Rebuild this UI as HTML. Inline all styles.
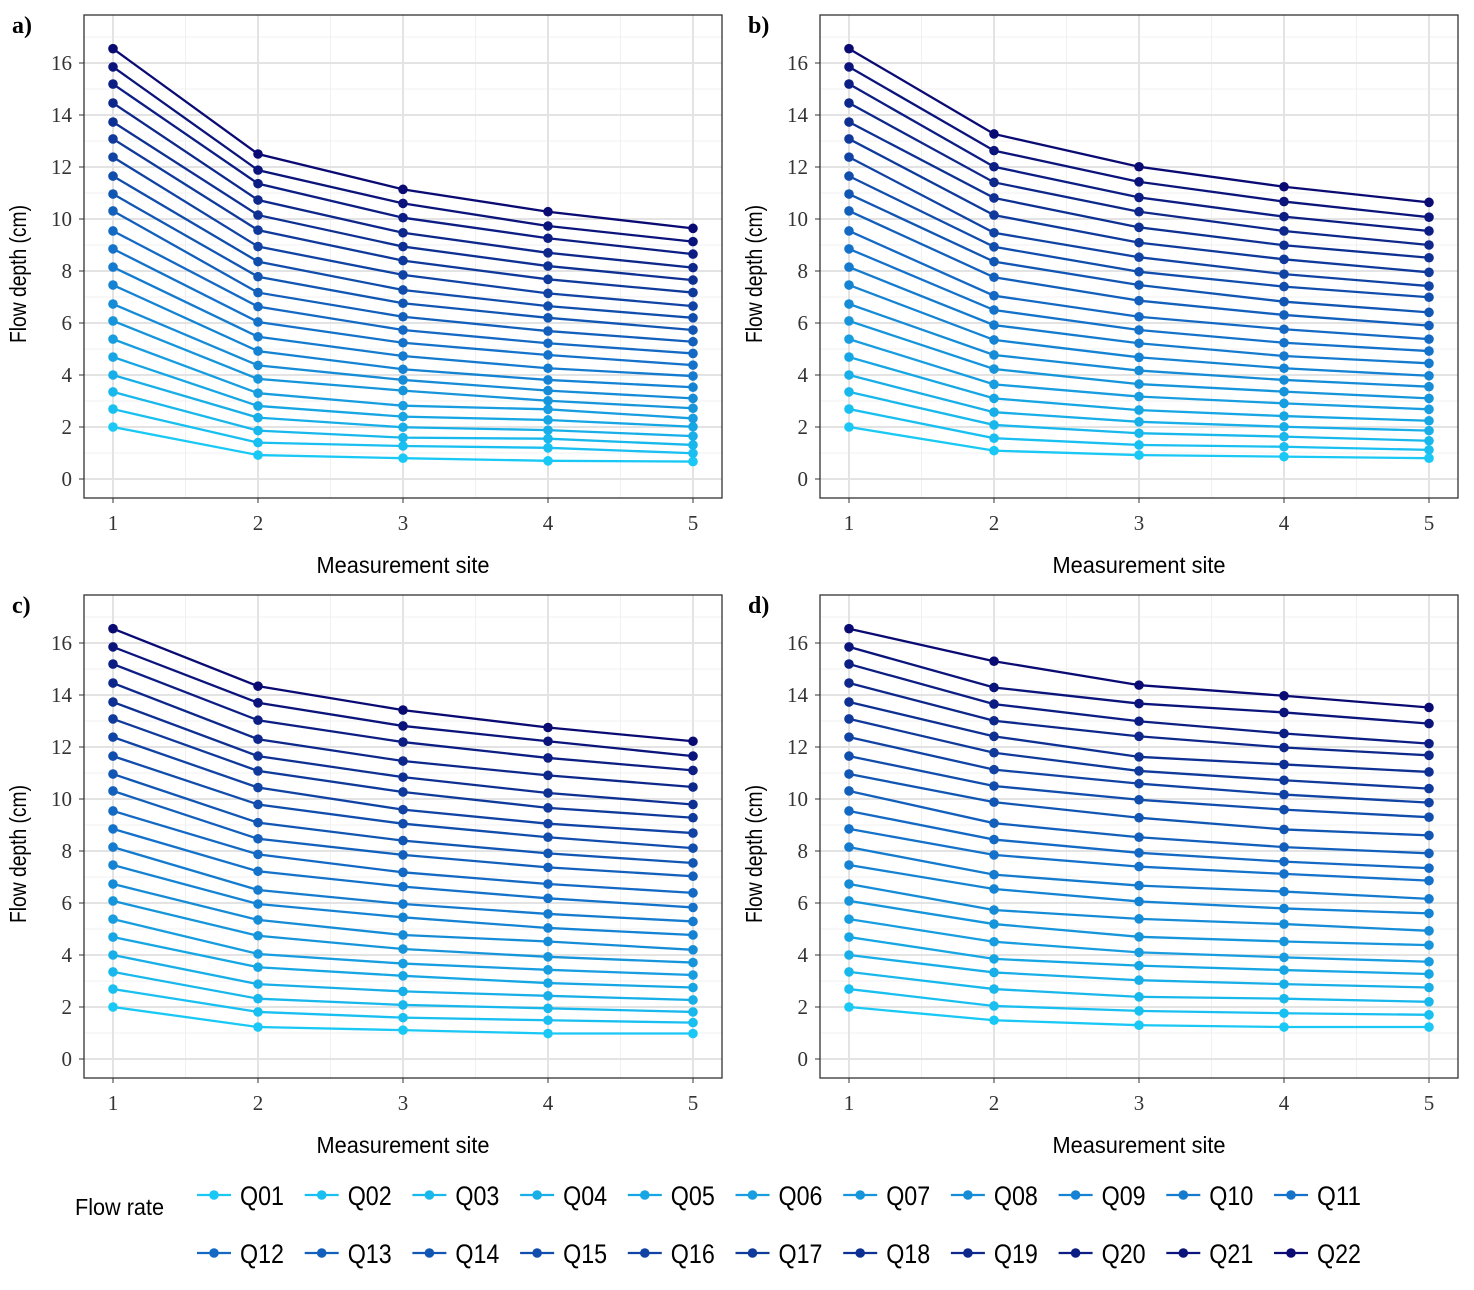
<!DOCTYPE html>
<html><head><meta charset="utf-8"><style>
html,body{margin:0;padding:0;background:#fff;}
svg{display:block;}
.tick{font-family:"Liberation Serif",serif;font-size:21px;fill:#333;}
.ttl{font-family:"Liberation Sans Narrow","Liberation Sans",sans-serif;font-size:23px;fill:#000;}
.plab{font-family:"Liberation Serif",serif;font-size:24px;font-weight:bold;fill:#000;}
.leg{font-family:"Liberation Sans Narrow","Liberation Sans",sans-serif;font-size:27px;fill:#000;}
</style></head><body>
<svg id="chart" width="1474" height="1290" viewBox="0 0 1474 1290" xmlns="http://www.w3.org/2000/svg"></svg>
<script>
const sites=[1,2,3,4,5];
const seriesNames=["Q01","Q02","Q03","Q04","Q05","Q06","Q07","Q08","Q09","Q10","Q11","Q12","Q13","Q14","Q15","Q16","Q17","Q18","Q19","Q20","Q21","Q22"];
const yTicks=[0,2,4,6,8,10,12,14,16];
const panelLabels=["a)","b)","c)","d)"];
// values listed Q01..Q22 per site
const site1=[2.0,2.69,3.35,4.0,4.69,5.38,6.08,6.73,7.46,8.15,8.85,9.54,10.31,10.96,11.65,12.38,13.08,13.73,14.46,15.19,15.85,16.55];
const aS2=[0.92,1.40,1.86,2.36,2.81,3.30,3.85,4.37,4.92,5.47,6.04,6.63,7.17,7.78,8.36,8.94,9.57,10.15,10.73,11.36,11.88,12.5];
const aS3=[0.80,1.27,1.59,1.99,2.40,2.82,3.40,3.81,4.22,4.73,5.24,5.73,6.24,6.76,7.27,7.85,8.40,8.94,9.47,10.05,10.6,11.14];
const aS4=[0.70,1.20,1.55,1.88,2.27,2.68,3.01,3.40,3.81,4.26,4.77,5.22,5.69,6.20,6.65,7.14,7.68,8.19,8.70,9.26,9.73,10.28];
const aS5=[0.67,0.99,1.31,1.65,2.01,2.33,2.72,3.10,3.53,3.96,4.38,4.83,5.28,5.73,6.20,6.65,7.17,7.65,8.13,8.65,9.13,9.64];
const bS2=[1.09,1.57,2.08,2.57,3.10,3.64,4.23,4.77,5.35,5.92,6.5,7.05,7.76,8.36,8.93,9.47,10.15,10.81,11.41,12.01,12.63,13.27];
const bS3=[0.92,1.31,1.76,2.20,2.65,3.17,3.65,4.17,4.68,5.22,5.73,6.24,6.86,7.46,7.97,8.53,9.09,9.68,10.28,10.83,11.43,12.01];
const bS4=[0.86,1.24,1.63,2.01,2.42,2.91,3.36,3.81,4.26,4.73,5.24,5.76,6.31,6.82,7.40,7.88,8.45,8.99,9.54,10.09,10.67,11.24];
const bS5=[0.80,1.12,1.47,1.86,2.24,2.68,3.10,3.55,3.97,4.45,4.92,5.38,5.90,6.41,6.99,7.42,7.95,8.51,9.0,9.54,10.07,10.64];
const cS2=[1.23,1.81,2.32,2.88,3.53,4.04,4.74,5.35,5.96,6.50,7.22,7.87,8.47,9.09,9.79,10.44,11.08,11.65,12.30,13.03,13.70,14.34];
const cS3=[1.11,1.59,2.08,2.60,3.20,3.67,4.23,4.77,5.45,5.96,6.63,7.18,7.85,8.40,9.05,9.59,10.27,10.84,11.46,12.19,12.81,13.42];
const cS4=[0.98,1.49,1.95,2.43,2.92,3.43,3.93,4.52,5.04,5.58,6.18,6.73,7.37,7.91,8.53,9.05,9.66,10.23,10.91,11.58,12.22,12.75];
const cS5=[0.98,1.40,1.81,2.27,2.75,3.23,3.71,4.20,4.77,5.29,5.83,6.39,7.03,7.54,8.11,8.69,9.28,9.79,10.46,11.10,11.65,12.22];
const dS2=[1.49,2.04,2.69,3.33,3.85,4.51,5.19,5.73,6.54,7.09,7.85,8.44,9.07,9.88,10.50,11.13,11.78,12.41,13.01,13.65,14.29,15.30];
const dS3=[1.30,1.85,2.39,3.03,3.59,4.10,4.70,5.39,6.06,6.67,7.40,7.93,8.53,9.28,9.97,10.59,11.08,11.62,12.41,12.99,13.67,14.38];
const dS4=[1.23,1.76,2.32,2.88,3.42,3.91,4.52,5.19,5.79,6.44,7.12,7.59,8.15,8.83,9.59,10.17,10.72,11.33,11.98,12.52,13.33,13.97];
const dS5=[1.23,1.70,2.20,2.75,3.27,3.74,4.38,4.93,5.60,6.16,6.86,7.34,7.91,8.60,9.30,9.86,10.40,11.04,11.68,12.13,12.90,13.52];
const panelSites=[[site1,aS2,aS3,aS4,aS5],[site1,bS2,bS3,bS4,bS5],[site1,cS2,cS3,cS4,cS5],[site1,dS2,dS3,dS4,dS5]];

const NS="http://www.w3.org/2000/svg";
const svg=document.getElementById('chart');
function mk(tag,attrs,parent){const e=document.createElementNS(NS,tag);for(const k in attrs)e.setAttribute(k,attrs[k]);(parent||svg).appendChild(e);return e;}
function color(i){
  const t=i/(seriesNames.length-1);
  const s=[[25,200,245],[20,110,200],[10,10,115]];
  let a,b,u;if(t<0.5){a=s[0];b=s[1];u=t/0.5;}else{a=s[1];b=s[2];u=(t-0.5)/0.5;}
  return `rgb(${Math.round(a[0]+(b[0]-a[0])*u)},${Math.round(a[1]+(b[1]-a[1])*u)},${Math.round(a[2]+(b[2]-a[2])*u)})`;
}
const offsets=[[0,0],[736,0],[0,580],[736,580]];
panelSites.forEach((ps,p)=>{
  const ox=offsets[p][0],oy=offsets[p][1];
  const g=mk('g',{});
  
  
  const L=84+ox,R=722+ox,T=15+oy,B=498+oy;
  const xS=v=>113+ox+(v-1)*145;
  const yS=v=>479+oy-v*26;
  for(let v=1.5;v<5;v+=1){mk('line',{x1:xS(v),x2:xS(v),y1:T,y2:B,stroke:'#f0f0f0','stroke-width':1},g);}
  for(let v=1;v<18;v+=2){mk('line',{x1:L,x2:R,y1:yS(v),y2:yS(v),stroke:'#f0f0f0','stroke-width':1},g);}
  sites.forEach(s=>mk('line',{x1:xS(s),x2:xS(s),y1:T,y2:B,stroke:'#e3e3e3','stroke-width':2},g));
  yTicks.forEach(v=>mk('line',{x1:L,x2:R,y1:yS(v),y2:yS(v),stroke:'#e3e3e3','stroke-width':2},g));
  const fr=mk('rect',{x:L,y:T,width:R-L,height:B-T,fill:'none',stroke:'#333','stroke-width':1.3},g);
  
  yTicks.forEach(v=>{
    mk('line',{x1:L-5,x2:L,y1:yS(v),y2:yS(v),stroke:'#333'},g);
    const t=mk('text',{x:L-12,y:yS(v)+7,'text-anchor':'end',class:'tick'},g);t.textContent=v;
    
  });
  sites.forEach(s=>{
    mk('line',{x1:xS(s),x2:xS(s),y1:B,y2:B+5,stroke:'#333'},g);
    const t=mk('text',{x:xS(s),y:B+32,'text-anchor':'middle',class:'tick'},g);t.textContent=s;
    
  });
  const xt=mk('text',{x:(L+R)/2,y:B+75,'text-anchor':'middle',class:'ttl',textLength:173,lengthAdjust:'spacingAndGlyphs'},g);xt.textContent='Measurement site';
  
  const yt=mk('text',{x:0,y:0,'text-anchor':'middle',class:'ttl',textLength:138,lengthAdjust:'spacingAndGlyphs',transform:`translate(${26+ox},${274+oy}) rotate(-90)`},g);yt.textContent='Flow depth (cm)';
  
  const pl=mk('text',{x:12+ox,y:33+oy,class:'plab'},g);pl.textContent=panelLabels[p];
  
  seriesNames.forEach((n,i)=>{
    const c=color(i);
    const pts=sites.map((s,k)=>xS(s)+','+yS(ps[k][i])).join(' ');
    const line=mk('polyline',{points:pts,fill:'none',stroke:c,'stroke-width':2.3},g);
    
    
    sites.forEach((s,k)=>{
      const d=mk('circle',{cx:xS(s),cy:yS(ps[k][i]),r:4.8,fill:c},g);
      
      
    });
  });
});
const lg=mk('g',{});


const lt=mk('text',{x:75,y:1215,class:'ttl',textLength:89,lengthAdjust:'spacingAndGlyphs'},lg);lt.textContent='Flow rate';

seriesNames.forEach((n,i)=>{
  const row=Math.floor(i/11),col=i%11;
  const x=197+col*107.7,y=1195+row*58;
  const c=color(i);
  const e=mk('g',{},lg);
  
  
  mk('line',{x1:x,x2:x+34,y1:y,y2:y,stroke:c,'stroke-width':2.3},e);
  mk('circle',{cx:x+17,cy:y,r:4.8,fill:c},e);
  const t=mk('text',{x:x+43,y:y+10,class:'leg',textLength:44,lengthAdjust:'spacingAndGlyphs'},e);t.textContent=n;
});
</script>
</body></html>
